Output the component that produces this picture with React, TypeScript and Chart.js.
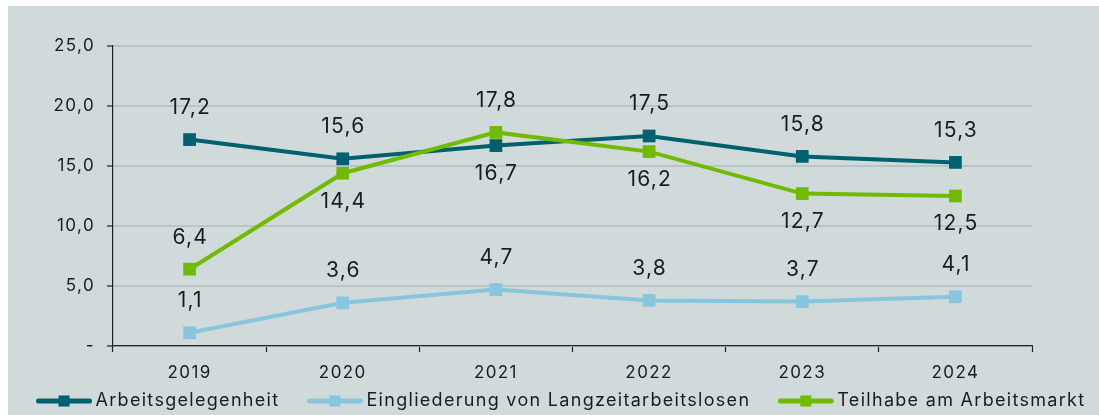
import React, { useEffect, useRef } from "react";
import { Chart, registerables } from "chart.js";

Chart.register(...registerables);

const categories = ["2019", "2020", "2021", "2022", "2023", "2024"];
const arbeitsgelegenheit = [17.2, 15.6, 16.7, 17.5, 15.8, 15.3];
const eingliederung = [1.1, 3.6, 4.7, 3.8, 3.7, 4.1];
const teilhabe = [6.4, 14.4, 17.8, 16.2, 12.7, 12.5];
const seriesNames = [
  "Arbeitsgelegenheit",
  "Eingliederung von Langzeitarbeitslosen",
  "Teilhabe am Arbeitsmarkt",
];
const yTickValues = [0, 5, 10, 15, 20, 25];

// label placement per series: 1 = above, -1 = below
const labelSide = [
  [1, 1, -1, 1, 1, 1],
  [1, 1, 1, 1, 1, 1],
  [1, -1, 1, -1, -1, -1],
];

const COLORS = ["#006070", "#88c6de", "#70bb00"];
const BG = "#d0dada";
const FONT = "Inter, 'Noto Sans', sans-serif";
const TEXT = "#1c1c1c";
const SPACING = 1.4;

const fmt = (v: number) => (v === 0 ? "-" : v.toFixed(1).replace(".", ","));

const setSpacing = (ctx: any, px: number) => {
  try { ctx.letterSpacing = px + "px"; } catch (e) {}
};

const spacingPlugin = {
  id: "spacing",
  beforeDraw(chart: any) { setSpacing(chart.ctx, SPACING); },
  afterDraw(chart: any) { setSpacing(chart.ctx, 0); },
};

const dataLabelPlugin = {
  id: "dataLabels",
  afterDatasetsDraw(chart: any) {
    const ctx = chart.ctx;
    ctx.save();
    setSpacing(ctx, 1.2);
    ctx.font = `21px ${FONT}`;
    ctx.fillStyle = TEXT;
    ctx.textAlign = "center";
    ctx.textBaseline = "middle";
    chart.data.datasets.forEach((ds: any, di: number) => {
      const meta = chart.getDatasetMeta(di);
      meta.data.forEach((pt: any, i: number) => {
        const side = labelSide[di][i];
        const y = side > 0 ? pt.y - 32 : pt.y + 28;
        ctx.fillText(fmt(ds.data[i]), pt.x + 0.6, y);
      });
    });
    ctx.restore();
  },
};

const legendPlugin = {
  id: "customLegend",
  afterDraw(chart: any) {
    const ctx = chart.ctx;
    ctx.save();
    ctx.font = `18px ${FONT}`;
    setSpacing(ctx, 1.3);
    const lineW = 55;
    const gap = 4;
    const itemGap = 28;
    const widths = seriesNames.map((n) => ctx.measureText(n).width);
    const total = widths.reduce((a, w) => a + lineW + gap + w, 0) + itemGap * (seriesNames.length - 1);
    let x = 553 - total / 2;
    const y = 395;
    seriesNames.forEach((name, i) => {
      ctx.strokeStyle = COLORS[i];
      ctx.lineWidth = 5;
      ctx.lineCap = "round";
      ctx.beginPath();
      ctx.moveTo(x + 2, y);
      ctx.lineTo(x + lineW - 2, y);
      ctx.stroke();
      ctx.fillStyle = COLORS[i];
      ctx.fillRect(x + lineW / 2 - 5.5, y - 5.5, 11, 11);
      ctx.fillStyle = TEXT;
      ctx.textAlign = "left";
      ctx.textBaseline = "middle";
      ctx.fillText(name, x + lineW + gap, y);
      x += lineW + gap + widths[i] + itemGap;
    });
    ctx.restore();
  },
};

export default function App() {
  const ref = useRef<HTMLCanvasElement>(null);
  useEffect(() => {
    if (!ref.current) return;
    const mk = (label: string, data: number[], color: string, order: number) => ({
      label,
      data,
      borderColor: color,
      backgroundColor: color,
      borderWidth: 4,
      pointStyle: "rect",
      pointRadius: 9,
      pointHoverRadius: 9,
      pointBorderWidth: 0,
      pointBackgroundColor: color,
      tension: 0,
      order,
    });
    const chart = new Chart(ref.current, {
      type: "line",
      data: {
        labels: categories,
        datasets: [
          mk(seriesNames[0], arbeitsgelegenheit, COLORS[0], 2),
          mk(seriesNames[1], eingliederung, COLORS[1], 1),
          mk(seriesNames[2], teilhabe, COLORS[2], 0),
        ],
      },
      options: {
        animation: false,
        responsive: false,
        layout: { padding: { left: 0, right: 67, top: 40, bottom: 0 } },
        plugins: { legend: { display: false }, tooltip: { enabled: false } },
        scales: {
          x: {
            offset: true,
            grid: {
              offset: true,
              drawOnChartArea: false,
              drawTicks: true,
              tickLength: 6,
              tickColor: "#222",
              tickWidth: 1.2,
            },
            border: { color: "#222", width: 1.2 },
            ticks: { color: TEXT, font: { family: FONT, size: 17 }, padding: 11 },
            afterFit: (axis: any) => { axis.height = 69; },
          },
          y: {
            min: 0,
            max: 25,
            afterBuildTicks: (axis: any) => {
              axis.ticks = yTickValues.map((v) => ({ value: v }));
            },
            grid: {
              color: "#b9c4c4",
              lineWidth: 2,
              tickLength: 6,
              tickColor: "#222",
              tickWidth: 1.2,
            },
            border: { color: "#222", width: 1.2 },
            ticks: {
              color: TEXT,
              font: { family: FONT, size: 17 },
              padding: 12,
              callback: (v: any) => fmt(Number(v)),
            },
            afterFit: (axis: any) => { axis.width = 105; },
          },
        },
      },
      plugins: [spacingPlugin, dataLabelPlugin, legendPlugin],
    } as any);
    return () => chart.destroy();
  }, []);
  return (
    <div style={{ position: "absolute", left: 8, top: 6, width: 1091, height: 409, background: BG }}>
      <canvas ref={ref} width={1091} height={409} style={{ display: "block" }} />
    </div>
  );
}
